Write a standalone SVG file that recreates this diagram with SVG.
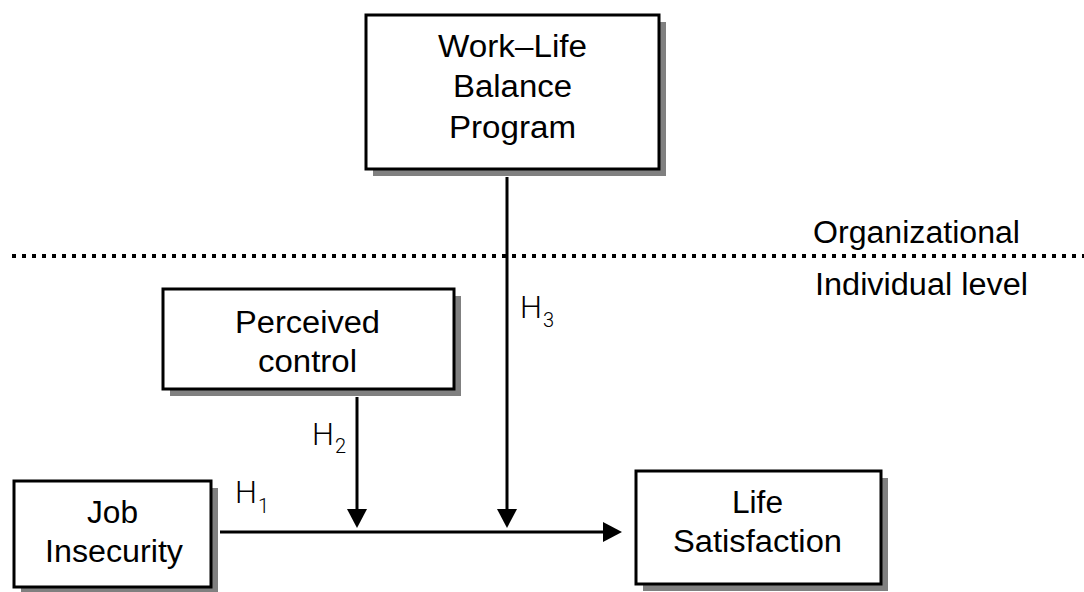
<svg xmlns="http://www.w3.org/2000/svg" width="1084" height="592" viewBox="0 0 1084 592">
  <style>
    .shadow { fill: #808080; }
    .box { fill: #ffffff; stroke: #000000; stroke-width: 3; }
    .lbl { font-family: "Liberation Sans", Arial, sans-serif; font-size: 31px; fill: #000000; text-anchor: middle; }
    .h { font-family: Roboto, "Open Sans", "Liberation Sans", sans-serif; font-weight: 300; font-size: 31px; fill: #000000; }
    .sub { font-size: 20px; }
    .conn { stroke: #000000; stroke-width: 3; fill: none; }
  </style>
  <defs>
    <marker id="arrow" markerUnits="userSpaceOnUse" viewBox="0 0 19 20" markerWidth="19" markerHeight="20" refX="9" refY="10" orient="auto">
      <path d="M0,0 L19,10 L0,20 Z" fill="#000000"/>
    </marker>
  </defs>
  <rect width="1084" height="592" fill="#ffffff"/>

  <g id="level-divider">
    <line x1="12" y1="256" x2="1084" y2="256" stroke="#000000" stroke-width="4" stroke-dasharray="4 6"/>
    <text class="lbl" x="916.5" y="243" textLength="207" lengthAdjust="spacingAndGlyphs">Organizational</text>
    <text class="lbl" x="921.5" y="295" textLength="213" lengthAdjust="spacingAndGlyphs">Individual level</text>
  </g>

  <g id="connectors">
    <line class="conn" x1="220" y1="532" x2="612" y2="532" marker-end="url(#arrow)"/>
    <line class="conn" x1="357" y1="397" x2="357" y2="518" marker-end="url(#arrow)"/>
    <line class="conn" x1="507" y1="177" x2="507" y2="518" marker-end="url(#arrow)"/>
    <text class="h" x="235" y="503">H<tspan class="sub" dx="1" dy="10">1</tspan></text>
    <text class="h" x="312" y="445">H<tspan class="sub" dx="1" dy="8">2</tspan></text>
    <text class="h" x="520" y="318">H<tspan class="sub" dx="1" dy="9">3</tspan></text>
  </g>

  <g id="work-life-balance-program">
    <rect class="shadow" x="373" y="22" width="293" height="154"/>
    <rect class="box" x="366" y="15" width="293" height="154"/>
    <text class="lbl" x="512.5" y="57" textLength="149" lengthAdjust="spacingAndGlyphs">Work–Life</text>
    <text class="lbl" x="512.5" y="97" textLength="119" lengthAdjust="spacingAndGlyphs">Balance</text>
    <text class="lbl" x="512.5" y="138" textLength="127" lengthAdjust="spacingAndGlyphs">Program</text>
  </g>

  <g id="perceived-control">
    <rect class="shadow" x="170" y="296" width="291" height="100"/>
    <rect class="box" x="163" y="289" width="291" height="100"/>
    <text class="lbl" x="307.5" y="333" textLength="145" lengthAdjust="spacingAndGlyphs">Perceived</text>
    <text class="lbl" x="307.5" y="372" textLength="99" lengthAdjust="spacingAndGlyphs">control</text>
  </g>

  <g id="job-insecurity">
    <rect class="shadow" x="21" y="488" width="197" height="106"/>
    <rect class="box" x="14" y="481" width="197" height="106"/>
    <text class="lbl" x="112.5" y="523" textLength="51" lengthAdjust="spacingAndGlyphs">Job</text>
    <text class="lbl" x="114" y="562" textLength="138" lengthAdjust="spacingAndGlyphs">Insecurity</text>
  </g>

  <g id="life-satisfaction">
    <rect class="shadow" x="643" y="478" width="245" height="113"/>
    <rect class="box" x="636" y="471" width="245" height="113"/>
    <text class="lbl" x="757.5" y="513" textLength="51" lengthAdjust="spacingAndGlyphs">Life</text>
    <text class="lbl" x="757.5" y="552" textLength="169" lengthAdjust="spacingAndGlyphs">Satisfaction</text>
  </g>
</svg>
